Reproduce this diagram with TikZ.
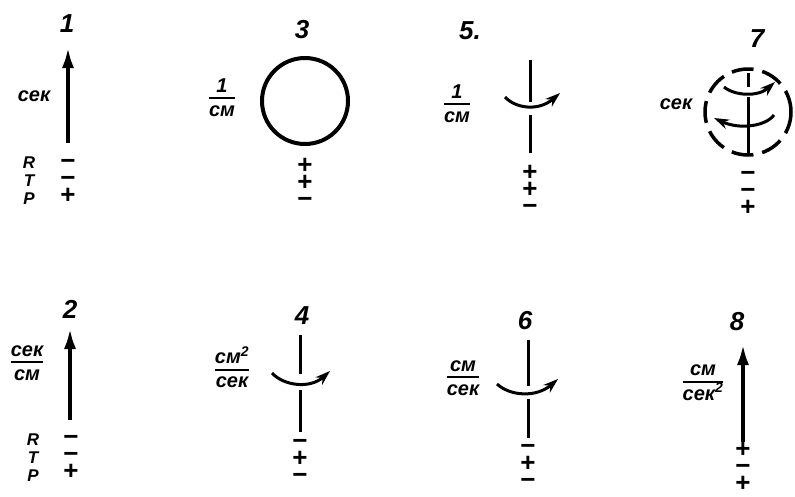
\documentclass[tikz,border=0pt]{standalone}
\usepackage{fontspec}
\setmainfont{Liberation Sans}
\usetikzlibrary{arrows.meta}
\setlength{\arrayrulewidth}{2pt}
\newcommand{\frc}[2]{\begin{tabular}{@{}c@{}}#1\\[-1pt]\hline\rule{0pt}{17pt}#2\end{tabular}}
\begin{document}
\begin{tikzpicture}[x=1pt,y=-1pt,
 lbl/.style={font=\fontsize{20}{20}\selectfont\bfseries\itshape, inner sep=0pt},
 rtp/.style={font=\fontsize{17}{18}\selectfont\bfseries\itshape, inner sep=0pt, align=center},
 num/.style={font=\fontsize{26}{26}\selectfont\bfseries\itshape, inner sep=0pt},
 sgn/.style={font=\fontsize{26}{17}\selectfont\bfseries, inner sep=0pt, align=center},
 vec/.style={line width=4.5pt, -{Latex[length=22pt,width=12pt]}},
 ax/.style={line width=3pt},
 rot/.style={line width=3pt, -{Stealth[length=15pt,width=10pt]}},
]
\useasboundingbox (0,0) rectangle (795,496);

% ---------- 1 ----------
\node[num] (n1) at (67,24) {1};
\coordinate (a1s) at (68,143);
\coordinate (a1e) at (68,46);
\draw[vec] (a1s) -- (a1e);
\node[lbl] (l1) at (34,96) {сек};
\node[rtp] (rtp1) at (29,181) {R\\T\\P};
\node[sgn] (s1) at (68,181) {−\\−\\+};

% ---------- 2 ----------
\node[num] (n2) at (70,309) {2};
\coordinate (a2s) at (70,420);
\coordinate (a2e) at (70,327);
\draw[vec] (a2s) -- (a2e);
\node[lbl] (l2) at (27,364) {\frc{сек}{см}};
\node[rtp] (rtp2) at (33,458) {R\\T\\P};
\node[sgn] (s2) at (71,457) {−\\−\\+};

% ---------- 3 ----------
\node[num] (n3) at (302,30) {3};
\node[draw, circle, line width=4pt, minimum size=86pt, inner sep=0pt] (c3) at (305,101) {};
\node[lbl] (l3) at (222,100) {\frc{1}{см}};
\node[sgn] (s3) at (305,183) {+\\+\\−};

% ---------- 5 ----------
\node[num] (n5) at (470,31) {5.};
\coordinate (v5a) at (530,60);
\coordinate (v5b) at (530,102);
\coordinate (v5c) at (530,115);
\coordinate (v5d) at (530,153);
\draw[ax] (v5a) -- (v5b) (v5c) -- (v5d);
\coordinate (r5s) at (505,97);
\coordinate (r5e) at (560,93);
\draw[rot] (r5s) .. controls (515,108) and (538,112) .. (r5e);
\node[lbl] (l5) at (457,106) {\frc{1}{см}};
\node[sgn] (s5) at (530,190) {+\\+\\−};

% ---------- 7 ----------
\node[num] (n7) at (757,39) {7};
\node[draw, circle, line width=3.5pt, dash pattern=on 22pt off 9pt, minimum size=86pt, inner sep=0pt] (c7) at (748,112) {};
\coordinate (v7a) at (748,73);
\coordinate (v7b) at (748,87);
\coordinate (v7c) at (748,97);
\coordinate (v7d) at (748,153);
\draw[ax] (v7a) -- (v7b) (v7c) -- (v7d);
\coordinate (u7s) at (724,87);
\coordinate (u7e) at (775,82);
\draw[rot] (u7s) .. controls (735,96) and (758,97) .. (u7e);
\coordinate (d7s) at (774,115);
\coordinate (d7e) at (714,118);
\draw[rot] (d7s) .. controls (766,126) and (740,130) .. (d7e);
\node[lbl] (l7) at (676,104) {сек};
\node[sgn] (s7) at (748,193) {−\\−\\+};

% ---------- 4 ----------
\node[num] (n4) at (302,316) {4};
\coordinate (v4a) at (300,335);
\coordinate (v4b) at (300,374);
\coordinate (v4c) at (300,390);
\coordinate (v4d) at (300,432);
\draw[ax] (v4a) -- (v4b) (v4c) -- (v4d);
\coordinate (r4s) at (272,373);
\coordinate (r4e) at (330,371);
\draw[rot] (r4s) .. controls (284,386) and (310,389) .. (r4e);
\node[lbl] (l4) at (232,370) {\frc{см\textsuperscript{2}}{сек}};
\node[sgn] (s4) at (300,461) {−\\+\\−};

% ---------- 6 ----------
\node[num] (n6) at (525,321) {6};
\coordinate (v6a) at (528,340);
\coordinate (v6b) at (528,386);
\coordinate (v6c) at (528,399);
\coordinate (v6d) at (528,438);
\draw[ax] (v6a) -- (v6b) (v6c) -- (v6d);
\coordinate (r6s) at (497,384);
\coordinate (r6e) at (558,379);
\draw[rot] (r6s) .. controls (510,396) and (536,398) .. (r6e);
\node[lbl] (l6) at (463,379) {\frc{см}{сек}};
\node[sgn] (s6) at (528,466) {−\\+\\−};

% ---------- 8 ----------
\node[num] (n8) at (737,322) {8};
\coordinate (a8s) at (743,442);
\coordinate (a8e) at (743,343);
\draw[vec] (a8s) -- (a8e);
\node[lbl] (l8) at (703,384) {\frc{см}{сек\textsuperscript{2}}};
\node[sgn] (s8) at (743,467) {+\\−\\+};
\end{tikzpicture}
\end{document}
